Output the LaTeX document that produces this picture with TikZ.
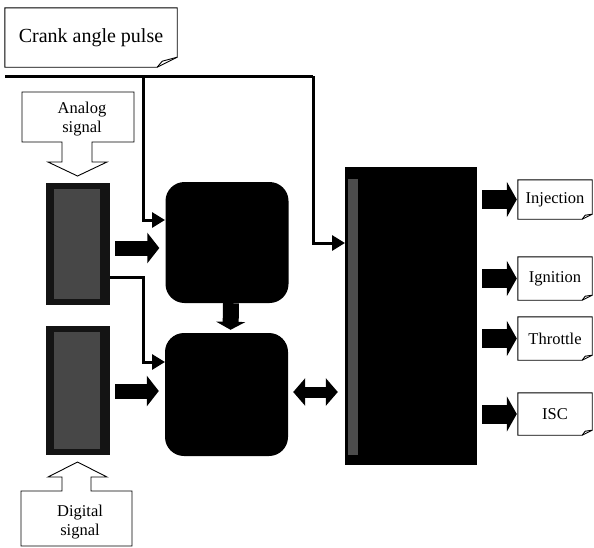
\documentclass[tikz,border=0pt]{standalone}
\usepackage{fontspec}
\setmainfont{Liberation Serif}
\usetikzlibrary{arrows.meta,calc}

\tikzset{
  label/.style={inner sep=0pt, align=center, font=\fontsize{16.5}{19}\selectfont},
  outline/.style={line width=0.9pt, line join=miter},
  sensor/.style={fill=black!92, inner sep=0pt, minimum width=64pt,
    path picture={\fill[black!72] ([xshift=8pt,yshift=-6pt]path picture bounding box.north west)
      rectangle ([xshift=-10pt,yshift=6pt]path picture bounding box.south east);}},
  unit/.style={fill=black, rounded corners=19pt, inner sep=0pt, minimum width=123pt},
  link/.style={line width=3pt, -{Triangle[length=13pt,width=15pt]}},
  fat/.style n args={3}{line width=#1, -{Triangle[length=#2,width=#3]}},
}

\begin{document}
\begin{tikzpicture}[x=1pt, y=-1pt]
  \useasboundingbox (0,0) rectangle (594,547);

  % crank angle pulse note
  \node[label, font=\fontsize{20}{24}\selectfont, minimum width=172pt, minimum height=59pt] (crank) at (91,37.5) {Crank angle pulse};
  \draw[outline] (crank.north west) -- (crank.north east) -- ($(crank.south east)+(0,-10)$)
    -- ($(crank.south east)+(-20,0)$) -- (crank.south west) -- cycle;
  \draw[outline] ($(crank.south east)+(-20,0)$) -- ($(crank.south east)+(-15,-6)$) -- ($(crank.south east)+(0,-10)$);

  % signal callouts
  \draw[outline] (22,92) -- (134,92) -- (134,142) -- (92,142) -- (92,162) -- (107,162) -- (77.5,176)
    -- (48,162) -- (62,162) -- (62,142) -- (22,142) -- cycle;
  \node[label] (analog) at (82,119) {Analog\\signal};
  \draw[outline] (21,546) -- (132,546) -- (132,491) -- (91,491) -- (91,477) -- (107,477) -- (77.5,462)
    -- (48,477) -- (62,477) -- (62,491) -- (21,491) -- cycle;
  \node[label] (digital) at (80,522) {Digital\\signal};

  % input blocks
  \node[sensor, minimum height=122pt] (sensA) at (78,244) {};
  \node[sensor, minimum height=129pt] (sensD) at (78,390.5) {};

  % processing blocks
  \node[unit, minimum height=121pt] (proc1) at (227,242.5) {};
  \node[unit, minimum height=123pt] (proc2) at (226.5,394.5) {};

  % control unit
  \node[fill=black, inner sep=0pt, minimum width=132pt, minimum height=298pt,
    path picture={\fill[black!70] ([xshift=3pt,yshift=-12pt]path picture bounding box.north west)
      rectangle ([xshift=13pt,yshift=10pt]path picture bounding box.south west);}] (ecu) at (411,316) {};

  % outputs
  \node[label, minimum width=74pt, minimum height=39pt] (inj) at (555,199.5) {Injection};
  \node[label, minimum width=74pt, minimum height=43pt] (ign) at (555,278.5) {Ignition};
  \node[label, minimum width=74pt, minimum height=43pt] (thr) at (555,338.5) {Throttle};
  \node[label, minimum width=74pt, minimum height=42pt] (isc) at (555,414) {ISC};
  \foreach \n in {inj,ign,thr,isc} {
    \draw[outline] (\n.north west) -- (\n.north east) -- ($(\n.south east)+(0,-5)$)
      -- ($(\n.south east)+(-10,0)$) -- (\n.south west) -- cycle;
    \draw[outline] ($(\n.south east)+(-10,0)$) -- ($(\n.south east)+(-7,-4)$) -- ($(\n.south east)+(0,-5)$);
    \draw[fat={19pt}{10pt}{35pt}, shorten <=5pt, shorten >=1pt] (ecu.east |- \n.west) -- (\n.west);
  }

  % crank pulse bus
  \coordinate (busL) at (5,76);
  \coordinate (bus1) at (143,76);
  \coordinate (bus2) at (313,76);
  \coordinate (p1in) at (165,220);
  \coordinate (p2in) at (165,362);
  \coordinate (ecuin) at (345,243);
  \coordinate (aout) at (110,277);
  \draw[line width=3pt] (busL) -- (bus2);
  \draw[link] (bus2) |- (ecuin);
  \draw[link] (bus1) |- (p1in);
  \draw[link] (aout) -- (aout -| bus1) |- (p2in);

  % block arrows
  \draw[fat={15pt}{12pt}{30pt}, shorten <=5pt, shorten >=6pt] (sensA.east |- 0,248) -- (proc1.west |- 0,248);
  \draw[fat={15pt}{12pt}{30pt}, shorten <=5pt, shorten >=6pt] (sensD.east |- 0,391) -- (proc2.west |- 0,391);
  \draw[fat={16pt}{8pt}{29pt}, shorten >=3pt] ([xshift=4pt]proc1.south) -- ([xshift=4pt]proc2.north);
  \draw[line width=11pt, {Triangle[length=12pt,width=27pt]}-{Triangle[length=12pt,width=27pt]},
    shorten <=5pt, shorten >=7pt] (proc2.east |- 0,392) -- (ecu.west |- 0,392);
\end{tikzpicture}
\end{document}
